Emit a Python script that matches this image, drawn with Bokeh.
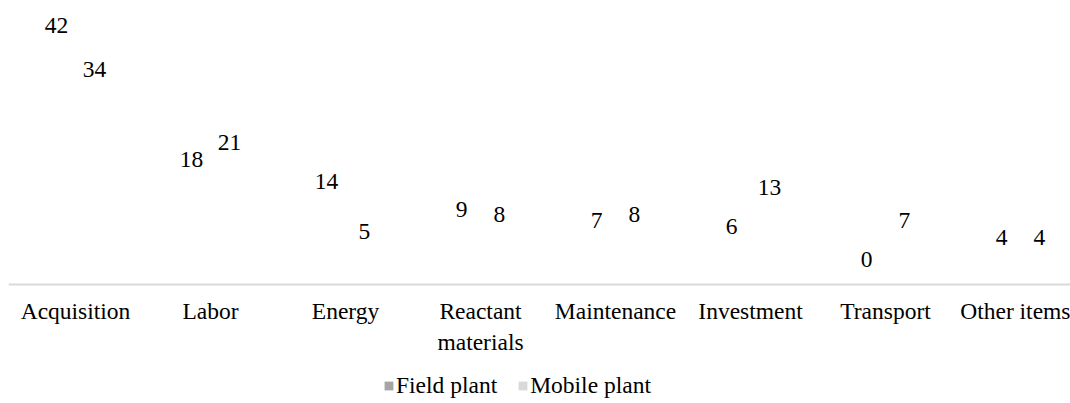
from bokeh.plotting import figure
from bokeh.models import (ColumnDataSource, Range1d, FixedTicker, Legend, LegendItem)
from bokeh.core.properties import value
from bokeh.embed import file_html
from bokeh.resources import INLINE

categories = ["Acquisition", "Labor", "Energy", "Reactant\nmaterials",
              "Maintenance", "Investment", "Transport", "Other items"]
field_plant = [42, 18, 14, 9, 7, 6, 0, 4]
mobile_plant = [34, 21, 5, 8, 8, 13, 7, 4]

FONT = "Liberation Serif"
FS = "23.5px"
idx = list(range(len(categories)))
dodge = 0.14

p = figure(width=1070, height=403, output_backend="svg", toolbar_location=None,
           x_range=Range1d(-0.4963, 7.37), y_range=Range1d(-21.34, 49.5),
           min_border_left=8, min_border_right=0, min_border_top=8, min_border_bottom=0,
           outline_line_color=None)
p.grid.visible = False
p.yaxis.visible = False

src_f = ColumnDataSource(dict(x=[i - dodge for i in idx], top=field_plant,
                              lab=[str(v) for v in field_plant]))
src_m = ColumnDataSource(dict(x=[i + dodge for i in idx], top=mobile_plant,
                              lab=[str(v) for v in mobile_plant]))

# bars (rendered invisible as in the reference)
p.vbar(x="x", top="top", width=0.27, source=src_f, fill_alpha=0, line_alpha=0)
p.vbar(x="x", top="top", width=0.27, source=src_m, fill_alpha=0, line_alpha=0)

for src in (src_f, src_m):
    p.text(x="x", y="top", text="lab", source=src, text_align="center",
           text_baseline="alphabetic", y_offset=-25, text_color="#000000",
           text_font=value(FONT), text_font_size=FS)

# legend swatches (zero-height bars, only their legend glyph shows)
lf = p.vbar(x="x", top="top", bottom="top", width=0.27, source=src_f,
            fill_color="#a5a5a5", line_color=None)
lm = p.vbar(x="x", top="top", bottom="top", width=0.27, source=src_m,
            fill_color="#d9d9d9", line_color=None)

xa = p.xaxis[0]
xa.fixed_location = 0
xa.ticker = FixedTicker(ticks=idx)
xa.major_label_overrides = {i: c for i, c in zip(idx, categories)}
xa.axis_line_color = "#d9d9d9"
xa.axis_line_width = 2
xa.major_tick_line_color = None
xa.minor_tick_line_color = None
xa.major_label_text_font = FONT
xa.major_label_text_font_size = FS
xa.major_label_text_color = "#000000"
xa.major_label_standoff = 7

legend = Legend(items=[LegendItem(label="Field plant", renderers=[lf]),
                       LegendItem(label="Mobile plant", renderers=[lm])],
                orientation="horizontal", location=(375, 4),
                label_text_font=FONT, label_text_font_size=FS,
                label_text_color="#000000",
                glyph_width=11, glyph_height=11, label_standoff=2, spacing=20,
                padding=0, margin=0, border_line_color=None,
                background_fill_alpha=0)
p.add_layout(legend, "center")

open("out.html", "w").write(file_html(p, INLINE))
